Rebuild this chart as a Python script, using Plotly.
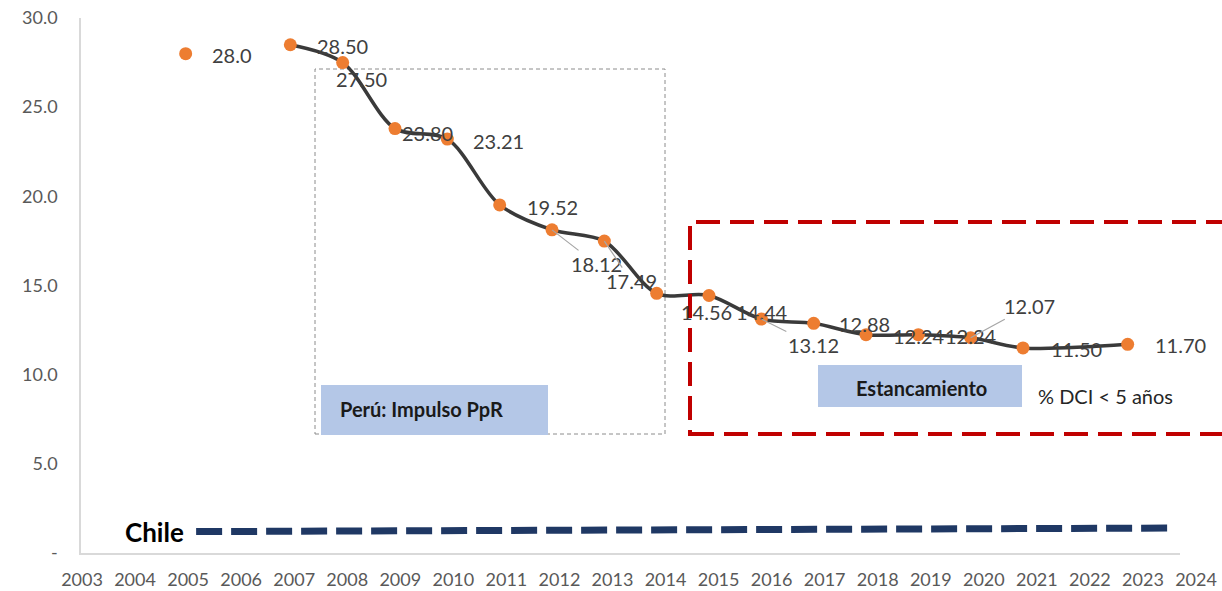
import plotly.graph_objects as go

# ---------------- data ----------------
years = [2007, 2008, 2009, 2010, 2011, 2012, 2013, 2014, 2015, 2016,
         2017, 2018, 2019, 2020, 2021, 2023]
dci = [28.50, 27.50, 23.80, 23.21, 19.52, 18.12, 17.49, 14.56, 14.44, 13.12,
       12.88, 12.24, 12.24, 12.07, 11.50, 11.70]
year_2005 = [2005]
dci_2005 = [28.0]
chile_x = [2005.2, 2023.8]
chile_values = [1.2, 1.4]
tick_years = list(range(2003, 2025))
y_tick_vals = [0, 5, 10, 15, 20, 25, 30]
y_tick_text = ["-", "5.0", "10.0", "15.0", "20.0", "25.0", "30.0"]

# label offsets (pixels) relative to each point: (dx, dy_down, leader)
label_offsets = [(52, 1, False), (19, 16, False), (32, 4, False), (51, 2, False),
                 (53, 2, False), (44, 34, True), (27, 40, True), (50, 19, False),
                 (53, 17, False), (52, 26, True), (51, 1, False), (53, 1, False),
                 (53, 1, False), (59, -32, True), (53, 1, False), (53, 1, False)]

W, H = 1222, 591
L, R, T, B = 81, 25, 18, 38
PW = W - L - R


def xp(px):
    return (px - L) / PW


def yv(py):
    return (553 - py) / (535 / 30)


FONT = "Lato"
LABEL_COLOR = "#404040"
LSIZE = 20

fig = go.Figure()

# invisible helper trace so the tick-label axis is drawn (added first -> bottom)
fig.add_trace(go.Scatter(
    x=tick_years, y=[None] * len(tick_years), xaxis="x2", yaxis="y",
    mode="markers", hoverinfo="skip", showlegend=False))

fig.add_trace(go.Scatter(
    x=chile_x, y=chile_values, mode="lines",
    line=dict(color="#1F3864", width=7, dash="26px,9px"),
    hoverinfo="skip", showlegend=False))

fig.add_trace(go.Scatter(
    x=years, y=dci, mode="lines+markers",
    line=dict(color="#3A3A3A", width=3.5, shape="spline", smoothing=0.9),
    marker=dict(color="#ED7D31", size=13),
    showlegend=False))

fig.add_trace(go.Scatter(
    x=year_2005, y=dci_2005, mode="markers",
    marker=dict(color="#ED7D31", size=13), showlegend=False))

annotations = []
annotations.append(dict(x=year_2005[0], y=dci_2005[0], xref="x", yref="y",
                        text=f"{dci_2005[0]:.1f}", showarrow=False,
                        xshift=46, yshift=-1,
                        font=dict(family=FONT, size=LSIZE, color=LABEL_COLOR)))
for yr, v, (dx, dy, leader) in zip(years, dci, label_offsets):
    if leader:
        annotations.append(dict(x=yr, y=v, xref="x", yref="y", text=f"{v:.2f}",
                                showarrow=True, arrowhead=0, arrowwidth=1.2,
                                arrowcolor="#A6A6A6", ax=dx, ay=dy,
                                font=dict(family=FONT, size=LSIZE, color=LABEL_COLOR)))
    else:
        annotations.append(dict(x=yr, y=v, xref="x", yref="y", text=f"{v:.2f}",
                                showarrow=False, xshift=dx, yshift=-dy,
                                font=dict(family=FONT, size=LSIZE, color=LABEL_COLOR)))

annotations += [
    dict(x=xp(338), y=yv(409), xref="paper", yref="y", xanchor="left",
         text="<b>Perú: Impulso PpR</b>", showarrow=False,
         font=dict(family=FONT, size=20, color="#1a1a1a")),
    dict(x=xp(921), y=yv(388), xref="paper", yref="y", xanchor="center",
         text="<b>Estancamiento</b>", showarrow=False,
         font=dict(family=FONT, size=20, color="#1a1a1a")),
    dict(x=xp(1036), y=yv(396), xref="paper", yref="y", xanchor="left",
         text="% DCI < 5 años", showarrow=False,
         font=dict(family=FONT, size=20, color="#262626")),
    dict(x=xp(154), y=yv(532), xref="paper", yref="y", xanchor="center",
         text="<b>Chile</b>", showarrow=False,
         font=dict(family=FONT, size=26, color="#000000")),
]

shapes = [
    dict(type="rect", xref="paper", yref="y", x0=xp(315), x1=xp(665),
         y0=yv(434), y1=yv(69), line=dict(color="#8C8C8C", width=1, dash="4px,3px"),
         layer="below"),
    dict(type="rect", xref="paper", yref="y", x0=xp(321), x1=xp(548),
         y0=yv(435), y1=yv(385), fillcolor="#B4C7E7", line=dict(width=0),
         layer="below"),
    dict(type="rect", xref="paper", yref="y", x0=xp(818), x1=xp(1022),
         y0=yv(407), y1=yv(365), fillcolor="#B4C7E7", line=dict(width=0),
         layer="below"),
    dict(type="rect", xref="paper", yref="y", x0=xp(690), x1=xp(1245),
         y0=yv(434), y1=yv(222), line=dict(color="#C00000", width=4, dash="24px,10px"),
         layer="above"),
]

fig.update_layout(
    width=W, height=H,
    margin=dict(l=L, r=R, t=T, b=B, autoexpand=False),
    paper_bgcolor="white", plot_bgcolor="rgba(0,0,0,0)",
    showlegend=False,
    annotations=annotations, shapes=shapes,
    xaxis=dict(domain=[0, (1180 - L) / PW], range=[2003, 2024], automargin=False,
               showgrid=False, zeroline=False, showline=True,
               linecolor="#D9D9D9", linewidth=1.5, showticklabels=False, ticks=""),
    xaxis2=dict(domain=[xp(82), xp(1196)], range=[2003, 2024], anchor="y",
                automargin=False,
                tickmode="array", tickvals=tick_years,
                ticktext=[str(t) for t in tick_years],
                showgrid=False, zeroline=False, showline=False,
                ticks="outside", ticklen=10, tickcolor="rgba(0,0,0,0)",
                tickfont=dict(family=FONT, size=18, color="#595959")),
    yaxis=dict(range=[0, 30], tickmode="array", tickvals=y_tick_vals,
               ticktext=y_tick_text, showgrid=False, zeroline=False,
               automargin=False,
               showline=True, linecolor="#D9D9D9", linewidth=1.5,
               ticks="outside", ticklen=18, tickcolor="rgba(0,0,0,0)",
               tickfont=dict(family=FONT, size=18, color="#595959")),
)

fig.write_html("out.html", config={"displayModeBar": False},
               post_script="document.body.style.margin='0';document.body.style.overflow='hidden';")
